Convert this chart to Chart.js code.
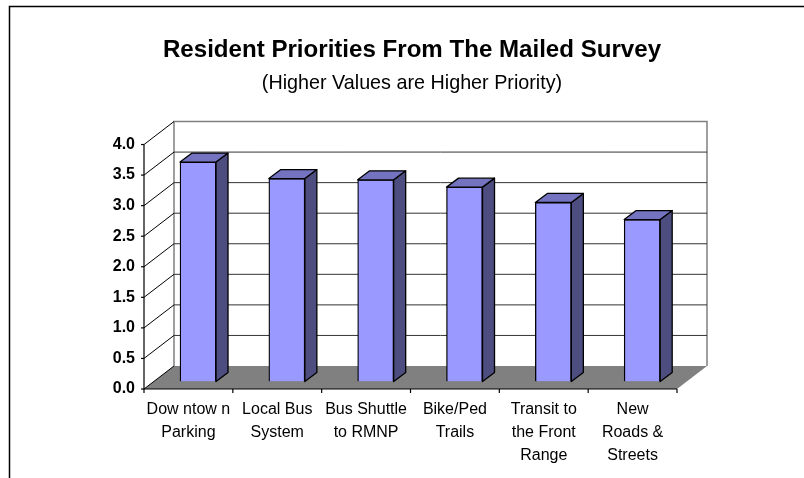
<!DOCTYPE html>
<html><head><meta charset="utf-8">
<style>html,body{margin:0;padding:0;background:#fff;overflow:hidden}canvas{display:block}</style>
<script src="https://cdn.jsdelivr.net/npm/chart.js@4"></script></head>
<body><div style="width:804px;height:478px"><canvas id="c"></canvas></div>
<script>
const categories = [["Dow ntow n","Parking"],["Local Bus","System"],["Bus Shuttle","to RMNP"],["Bike/Ped","Trails"],["Transit to","the Front","Range"],["New","Roads &","Streets"]];
const priorities = [3.59,3.32,3.30,3.18,2.93,2.65];
const yTicks = [0,0.5,1,1.5,2,2.5,3,3.5,4];
const chartTitle = "Resident Priorities From The Mailed Survey";
const chartSubtitle = "(Higher Values are Higher Priority)";

const DX=30, DY=-23, BX=9.6, BY=-7.5, SX=12, SY=-9;
const FONT='"Liberation Sans", Arial, sans-serif';

const frame = {
  id:'frame',
  beforeDraw(ch){
    const c=ch.ctx;
    c.save();
    c.strokeStyle='#000';c.lineWidth=1.5;
    c.beginPath();c.moveTo(9.5,478);c.lineTo(9.5,6.5);c.lineTo(804,6.5);c.stroke();
    c.restore();
  },
  beforeDatasetsDraw(ch){
    const c=ch.ctx,x=ch.scales.x,y=ch.scales.y;
    const L=x.left,R=x.right,B=y.getPixelForValue(0),T=y.getPixelForValue(4);
    c.save();
    c.fillStyle='#808080';
    c.beginPath();c.moveTo(L,B);c.lineTo(L+DX,B+DY);c.lineTo(R+DX,B+DY);c.lineTo(R,B);c.closePath();c.fill();
    c.strokeStyle='#808080';c.lineWidth=1.5;
    c.beginPath();c.moveTo(L+DX,B+DY);c.lineTo(L+DX,T+DY);c.lineTo(R+DX,T+DY);c.lineTo(R+DX,B+DY);c.stroke();
    c.lineWidth=1;
    yTicks.forEach(v=>{
      const p=y.getPixelForValue(v);
      c.strokeStyle='#000';
      c.beginPath();c.moveTo(L,p);c.lineTo(L+DX,p+DY);c.stroke();
      if(v>0&&v<4){c.strokeStyle='#333';c.beginPath();c.moveTo(L+DX,p+DY);c.lineTo(R+DX,p+DY);c.stroke();}
    });
    c.strokeStyle='#000';c.lineWidth=1.2;
    c.beginPath();c.moveTo(L,T);c.lineTo(L,B);c.lineTo(R,B);c.stroke();
    yTicks.forEach(v=>{const p=y.getPixelForValue(v);c.beginPath();c.moveTo(L-3,p);c.lineTo(L,p);c.stroke();});
    for(let i=0;i<=categories.length;i++){const px=L+(R-L)*i/categories.length;c.beginPath();c.moveTo(px,B);c.lineTo(px,B+4);c.stroke();}
    c.restore();
  },
  beforeDatasetDraw(ch){ch.ctx.save();ch.ctx.translate(BX,BY);},
  afterDatasetDraw(ch,args){
    const c=ch.ctx;
    args.meta.data.forEach(el=>{
      const p=el.getProps(['x','y','base','width'],true);
      const l=p.x-p.width/2,r=p.x+p.width/2,t=p.y,b=p.base;
      c.strokeStyle='#000';c.lineWidth=1.3;c.lineJoin='round';
      c.fillStyle='#4d4d80';
      c.beginPath();c.moveTo(r,t);c.lineTo(r+SX,t+SY);c.lineTo(r+SX,b+SY);c.lineTo(r,b);c.closePath();c.fill();c.stroke();
      c.fillStyle='#7373c0';
      c.beginPath();c.moveTo(l,t);c.lineTo(l+SX,t+SY);c.lineTo(r+SX,t+SY);c.lineTo(r,t);c.closePath();c.fill();c.stroke();
    });
    c.restore();
  }
};

new Chart(document.getElementById('c'),{
  type:'bar',
  data:{labels:categories,datasets:[{data:priorities,backgroundColor:'#9999ff',borderColor:'#000',borderWidth:1.3,barThickness:36}]},
  plugins:[frame],
  options:{
    responsive:true,maintainAspectRatio:false,animation:false,
    layout:{padding:{left:20,right:0,top:30,bottom:0}},
    plugins:{
      legend:{display:false},tooltip:{enabled:false},
      title:{display:true,text:chartTitle,color:'#000',font:{family:FONT,size:24.1,weight:'bold'},padding:{top:6,bottom:7}},
      subtitle:{display:true,text:chartSubtitle,color:'#000',font:{family:FONT,size:19.75,weight:'normal'},padding:{top:0,bottom:48.9}}
    },
    scales:{
      x:{grid:{display:false},border:{display:false},
         ticks:{color:'#000',font:{family:FONT,size:16,lineHeight:'23px'},maxRotation:0,autoSkip:false,padding:1},
         afterFit(s){s.height=89;}},
      y:{min:0,max:4,position:'left',grid:{display:false},border:{display:false},
         ticks:{color:'#000',font:{family:FONT,size:16,weight:'bold'},stepSize:0.5,padding:1,callback:v=>v.toFixed(1)},
         afterFit(s){s.width=124;}},
      y2:{position:'right',display:true,min:0,max:4,grid:{display:false},border:{display:false},ticks:{display:false},
         afterFit(s){s.width=127;}}
    }
  }
});
</script></body></html>
